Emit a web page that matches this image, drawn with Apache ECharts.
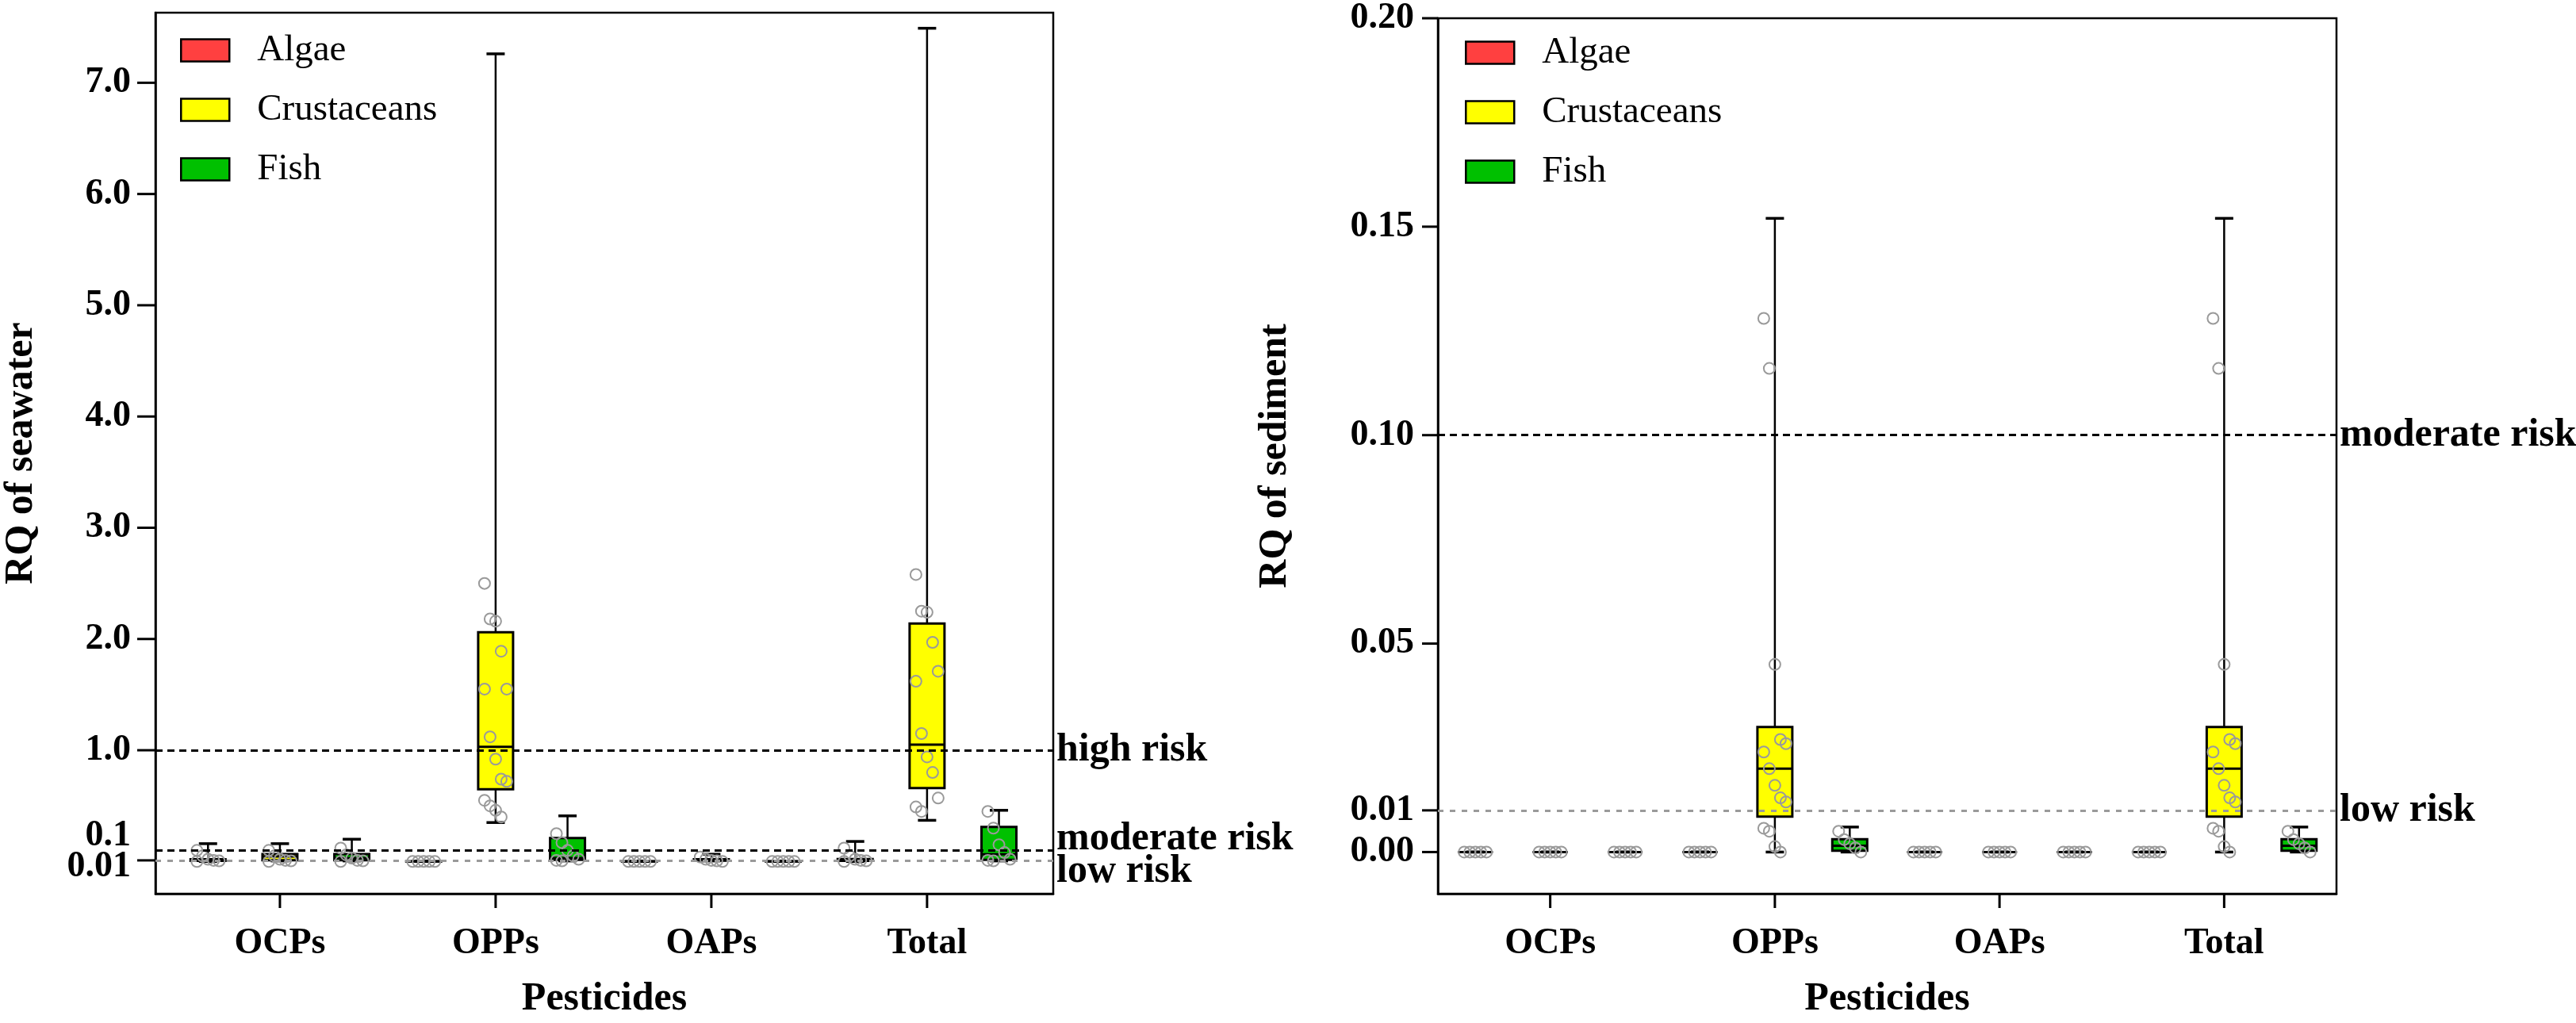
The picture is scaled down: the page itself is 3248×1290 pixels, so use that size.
<!DOCTYPE html>
<html>
<head>
<meta charset="utf-8">
<title>RQ of seawater and sediment</title>
<script src="https://cdn.jsdelivr.net/npm/echarts@6/dist/echarts.min.js"></script>
<style>
  html, body { margin: 0; padding: 0; background: #fff; }
  #main { width: 3248px; height: 1290px; }
</style>
</head>
<body>
<div id="main"></div>
<script>
// categories and groups
var categories = ['OCPs', 'OPPs', 'OAPs', 'Total'];
var groups = ['Algae', 'Crustaceans', 'Fish'];
var groupColors = ['#ff4040', '#ffff00', '#00c000'];

// seawater boxes, one row per category: [min, Q1, median, Q3, max]
var swAlgae = [[0, 0.005, 0.01, 0.02, 0.16], [0, 0, 0, 0.002, 0.004], [0, 0, 0, 0.002, 0.004], [0, 0.006, 0.012, 0.022, 0.18]];
var swCrust = [[0.005, 0.012, 0.045, 0.066, 0.16], [0.35, 0.65, 1.03, 2.06, 7.26], [0.005, 0.008, 0.012, 0.02, 0.065], [0.37, 0.66, 1.05, 2.14, 7.49]];
var swFish = [[0.005, 0.012, 0.03, 0.066, 0.2], [0.005, 0.015, 0.03, 0.21, 0.41], [0, 0, 0, 0.002, 0.004], [0.005, 0.015, 0.065, 0.31, 0.46]];

// seawater single samples (grey circles)
var swPtsAlgae = [[0.1, 0.05, 0.02, 0.01, 0.005, 0], [0, 0, 0, 0, 0], [0, 0, 0, 0, 0], [0.12, 0.05, 0.02, 0.01, 0.005, 0]];
var swPtsCrust = [[0.1, 0.05, 0.02, 0.01, 0.005, 0], [2.5, 2.18, 2.16, 1.89, 1.55, 1.55, 1.12, 0.92, 0.74, 0.72, 0.55, 0.5, 0.46, 0.4],
                  [0.04, 0.02, 0.01, 0.005, 0], [2.58, 2.25, 2.24, 1.97, 1.71, 1.62, 1.15, 0.94, 0.8, 0.57, 0.49, 0.45]];
var swPtsFish = [[0.12, 0.06, 0.03, 0.01, 0.005, 0], [0.25, 0.17, 0.1, 0.05, 0.02, 0.01, 0.005], [0, 0, 0, 0, 0], [0.45, 0.3, 0.15, 0.08, 0.02, 0.01, 0.005]];

// sediment boxes
var sdAlgae = [[0, 0, 0, 0, 0], [0, 0, 0, 0, 0], [0, 0, 0, 0, 0], [0, 0, 0, 0, 0]];
var sdCrust = [[0, 0, 0, 0, 0], [0, 0.0085, 0.020, 0.030, 0.152], [0, 0, 0, 0, 0], [0, 0.0085, 0.020, 0.030, 0.152]];
var sdFish = [[0, 0, 0, 0, 0], [0, 0.0003, 0.0015, 0.0031, 0.006], [0, 0, 0, 0, 0], [0, 0.0003, 0.0015, 0.0031, 0.006]];

// sediment single samples
var sdPtsAlgae = [[0, 0, 0, 0, 0], [0, 0, 0, 0, 0], [0, 0, 0, 0, 0], [0, 0, 0, 0, 0]];
var sdPtsCrust = [[0, 0, 0, 0, 0], [0.128, 0.116, 0.045, 0.027, 0.026, 0.024, 0.02, 0.016, 0.013, 0.012, 0.0057, 0.005, 0.0013, 0],
                  [0, 0, 0, 0, 0], [0.128, 0.116, 0.045, 0.027, 0.026, 0.024, 0.02, 0.016, 0.013, 0.012, 0.0057, 0.005, 0.0013, 0]];
var sdPtsFish = [[0, 0, 0, 0, 0], [0.005, 0.003, 0.002, 0.001, 0], [0, 0, 0, 0, 0], [0.005, 0.003, 0.002, 0.001, 0]];

// risk thresholds
var swRisk = [{ name: 'high risk', value: 1 }, { name: 'moderate risk', value: 0.1 }, { name: 'low risk', value: 0.01 }];
var sdRisk = [{ name: 'moderate risk', value: 0.1 }, { name: 'low risk', value: 0.01 }];

// y tick values (0.1 on the seawater axis is labelled without a tick)
var swTicks = [0.01, 1, 2, 3, 4, 5, 6, 7];
var swExtraLabel = 0.1;
var sdTicks = [0, 0.01, 0.05, 0.1, 0.15, 0.2];

// axis ranges
var swX = [0.423, 4.585], swY = [-0.29, 7.63];
var sdX = [0.5, 4.5], sdY = [-0.01, 0.2];

var FONT = '"Liberation Serif", "Times New Roman", serif';
// category positions on the x value axis
var xCenters = [1, 2, 3, 4];

function boxRender(pts, slot) {
    return function (params, api) {
        var cx = api.value(0) + (slot - 1) / 3;
        var y = function (v) { return api.coord([cx, v])[1]; };
        var xm = api.coord([cx, 0])[0];
        var yMin = y(api.value(1)), yQ1 = y(api.value(2)), yMed = y(api.value(3)),
            yQ3 = y(api.value(4)), yMax = y(api.value(5));
        var hw = 22, cw = 11.5;
        var ln = { stroke: '#000', lineWidth: 2.5 };
        var cap = { stroke: '#000', lineWidth: 3.5 };
        var children = [
            { type: 'line', shape: { x1: xm, y1: yQ3, x2: xm, y2: yMax }, style: ln },
            { type: 'line', shape: { x1: xm, y1: yQ1, x2: xm, y2: yMin }, style: ln },
            { type: 'line', shape: { x1: xm - cw, y1: yMax, x2: xm + cw, y2: yMax }, style: cap },
            { type: 'line', shape: { x1: xm - cw, y1: yMin, x2: xm + cw, y2: yMin }, style: cap },
            { type: 'rect', shape: { x: xm - hw, y: yQ3, width: hw * 2, height: yQ1 - yQ3 },
              style: { fill: api.visual('color'), stroke: '#000', lineWidth: 3 } },
            { type: 'line', shape: { x1: xm - hw, y1: yMed, x2: xm + hw, y2: yMed }, style: { stroke: '#000', lineWidth: 3 } }
        ];
        pts[params.dataIndex].forEach(function (v, i) {
            children.push({
                type: 'circle',
                shape: { cx: xm + ((i % 5) - 2) * 7, cy: y(v), r: 7 },
                style: { fill: 'none', stroke: '#9a9a9a', lineWidth: 2 }
            });
        });
        return { type: 'group', children: children };
    };
}

function boxSeries(name, idx, rows, pts, slot, color) {
    return {
        name: name,
        type: 'custom',
        xAxisIndex: idx,
        yAxisIndex: idx,
        z: 3,
        itemStyle: { color: color },
        encode: { x: 0, y: [1, 2, 3, 4, 5] },
        renderItem: boxRender(pts, slot),
        data: rows.map(function (r, i) { return [xCenters[i]].concat(r); })
    };
}

var labelFont = { color: '#000', fontFamily: FONT, fontWeight: 'bold' };

// shift: 'up' puts the text above the line centre, 'down' below it
function riskSeries(idx, risks, shift, extra) {
    var items = risks.map(function (r) {
        var grey = r.name === 'low risk';
        var s = shift[r.name];
        var txt = s === 'up' ? r.name + '\n ' : (s === 'down' ? ' \n' + r.name : r.name);
        return {
            yAxis: r.value,
            name: r.name,
            lineStyle: grey ? { color: '#9a9a9a', width: 3, type: [7, 8] }
                            : { color: '#000', width: 3.2, type: [9, 6] },
            label: Object.assign({
                show: true, position: 'end', distance: 4, formatter: txt,
                fontSize: 50, lineHeight: s ? 28 : 56
            }, labelFont)
        };
    });
    if (extra != null) {
        // tick label that sits just above the moderate-risk line
        items.push({
            yAxis: extra,
            name: String(extra),
            lineStyle: { color: 'rgba(0,0,0,0)', width: 1, type: 'solid' },
            label: Object.assign({
                show: true, position: 'start', distance: 31,
                formatter: String(extra) + '\n ', fontSize: 46, lineHeight: 36
            }, labelFont)
        });
    }
    return {
        type: 'line',
        name: 'risk' + idx,
        xAxisIndex: idx,
        yAxisIndex: idx,
        data: [],
        z: 1,
        markLine: { silent: true, symbol: 'none', animation: false, data: items }
    };
}

function legendFor(left, top) {
    return {
        orient: 'vertical',
        left: left,
        top: top,
        padding: 0,
        icon: 'rect',
        itemWidth: 61,
        itemHeight: 28,
        itemGap: 28,
        itemStyle: { borderColor: '#000', borderWidth: 2.5 },
        textStyle: { fontFamily: FONT, fontSize: 47, color: '#000', padding: [0, 0, 0, 30] },
        data: groups.map(function (g, i) { return { name: g, itemStyle: { color: groupColors[i] } }; })
    };
}

function xAxisFor(idx, range, zeroAxis) {
    return {
        type: 'value',
        gridIndex: idx,
        min: range[0],
        max: range[1],
        splitLine: { show: false },
        axisLine: { show: true, onZero: true, onZeroAxisIndex: zeroAxis, lineStyle: { color: '#000', width: 2.5 } },
        axisTick: { show: false },
        axisLabel: {
            customValues: xCenters, margin: 40,
            formatter: function (v) { return categories[Math.round(v) - 1]; },
            fontFamily: FONT, fontWeight: 'bold', fontSize: 46, color: '#000'
        },
        name: 'Pesticides',
        nameLocation: 'middle',
        nameGap: 108,
        nameTextStyle: { fontFamily: FONT, fontWeight: 'bold', fontSize: 50, color: '#000' }
    };
}

// helper y axes that never cross zero, so the x axes stay at the bottom of the frame
function helperY(idx) {
    return { type: 'value', gridIndex: idx, min: 1, max: 2, show: false };
}

var chart = echarts.init(document.getElementById('main'), null, { renderer: 'canvas' });

var option = {
    backgroundColor: '#fff',
    animation: false,
    grid: [
        { left: 196, top: 16, width: 1132, height: 1132, show: true, borderColor: '#000', borderWidth: 2.5, backgroundColor: 'transparent' },
        { left: 1813, top: 18, width: 1133, height: 1133, show: true, borderColor: '#000', borderWidth: 2.5, backgroundColor: 'transparent' }
    ],
    legend: [legendFor(227, 40), legendFor(1847, 43)],
    xAxis: [xAxisFor(0, swX, 2), xAxisFor(1, sdX, 3)],
    yAxis: [
        {
            type: 'value', gridIndex: 0, min: swY[0], max: swY[1],
            splitLine: { show: false },
            axisLine: { show: true, lineStyle: { color: '#000', width: 2.5 } },
            axisTick: { show: false },
            axisLabel: {
                customValues: swTicks, margin: 31,
                formatter: function (v) {
                    if (v === 0.01) return '{gap|}\n{dn|0.01}';
                    return v.toFixed(1);
                },
                fontFamily: FONT, fontWeight: 'bold', fontSize: 46, color: '#000',
                rich: {
                    dn: Object.assign({ lineHeight: 16, fontSize: 46 }, labelFont),
                    gap: Object.assign({ lineHeight: 16, fontSize: 46 }, labelFont)
                }
            },
            name: 'RQ of seawater',
            nameLocation: 'middle',
            nameGap: 144,
            nameTextStyle: { fontFamily: FONT, fontWeight: 'bold', fontSize: 50, color: '#000' }
        },
        {
            type: 'value', gridIndex: 1, min: sdY[0], max: sdY[1],
            splitLine: { show: false },
            axisLine: { show: true, lineStyle: { color: '#000', width: 2.5 } },
            axisTick: { show: false },
            axisLabel: {
                customValues: sdTicks, margin: 30,
                formatter: function (v) { return v.toFixed(2); },
                fontFamily: FONT, fontWeight: 'bold', fontSize: 46, color: '#000'
            },
            name: 'RQ of sediment',
            nameLocation: 'middle',
            nameGap: 180,
            nameTextStyle: { fontFamily: FONT, fontWeight: 'bold', fontSize: 50, color: '#000' }
        },
        helperY(0),
        helperY(1)
    ],
    series: [
        riskSeries(0, swRisk, { 'moderate risk': 'up', 'low risk': 'down' }, swExtraLabel),
        riskSeries(1, sdRisk, {}, null),
        boxSeries('Algae', 0, swAlgae, swPtsAlgae, 0, groupColors[0]),
        boxSeries('Crustaceans', 0, swCrust, swPtsCrust, 1, groupColors[1]),
        boxSeries('Fish', 0, swFish, swPtsFish, 2, groupColors[2]),
        boxSeries('Algae', 1, sdAlgae, sdPtsAlgae, 0, groupColors[0]),
        boxSeries('Crustaceans', 1, sdCrust, sdPtsCrust, 1, groupColors[1]),
        boxSeries('Fish', 1, sdFish, sdPtsFish, 2, groupColors[2])
    ]
};

chart.setOption(option);

// outward tick marks on the frame, placed through the axes' own scales
function frameTicks(idx, yTicks, yLen, xRange, yRange, xLen) {
    var out = [];
    yTicks.forEach(function (v) {
        var p = chart.convertToPixel({ gridIndex: idx }, [xRange[0], v]);
        out.push({ type: 'line', zlevel: 2, shape: { x1: p[0] - yLen, y1: p[1], x2: p[0], y2: p[1] },
                   style: { stroke: '#000', lineWidth: 3 } });
    });
    xCenters.forEach(function (c) {
        var p = chart.convertToPixel({ gridIndex: idx }, [c, yRange[0]]);
        out.push({ type: 'line', zlevel: 2, shape: { x1: p[0], y1: p[1], x2: p[0], y2: p[1] + xLen },
                   style: { stroke: '#000', lineWidth: 3 } });
    });
    return out;
}

chart.setOption({
    graphic: frameTicks(0, swTicks, 23, swX, swY, 18).concat(frameTicks(1, sdTicks, 20, sdX, sdY, 18))
});
</script>
</body>
</html>
